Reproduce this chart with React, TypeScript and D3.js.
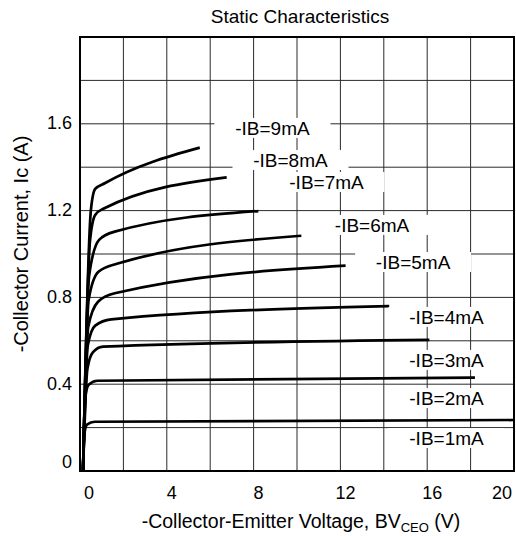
import React from "react";
import * as d3 from "d3";

type Pt = [number, number];

// -IB curves, [V, A]
const ib1: Pt[] = [[0.14, 0], [0.2, 0.17], [0.32, 0.214], [0.68, 0.227], [20, 0.235]];
const ib2: Pt[] = [[0.14, 0], [0.24, 0.34], [0.4, 0.398], [0.8, 0.416], [18.2, 0.43]];
const ib3: Pt[] = [[0.14, 0], [0.34, 0.47], [0.6, 0.548], [1.06, 0.573], [16.1, 0.604]];
const ib4: Pt[] = [[0.14, 0], [0.36, 0.58], [0.7, 0.67], [1.44, 0.699], [14.25, 0.76]];
const ib5: Pt[] = [[0.14, 0], [0.38, 0.665], [0.83, 0.78], [1.6, 0.819], [12.24, 0.946]];
const ib6: Pt[] = [[0.14, 0], [0.4, 0.79], [0.85, 0.918], [1.7, 0.955], [10.2, 1.084]];
const ib7: Pt[] = [[0.14, 0], [0.42, 0.9], [0.88, 1.065], [1.6, 1.103], [8.22, 1.198]];
const ib8: Pt[] = [[0.14, 0], [0.46, 1.06], [0.7, 1.18], [1.1, 1.21], [6.76, 1.353]];
const ib9: Pt[] = [[0.14, 0], [0.5, 1.2], [0.7, 1.3], [1.14, 1.326], [5.52, 1.49]];

const curves = [ib1, ib2, ib3, ib4, ib5, ib6, ib7, ib8, ib9];
const curveNames = ["-IB=1mA", "-IB=2mA", "-IB=3mA", "-IB=4mA", "-IB=5mA", "-IB=6mA", "-IB=7mA", "-IB=8mA", "-IB=9mA"];
// where each name sits, in data units
const nameAt: Pt[] = [
  [16.89, 0.152], [16.89, 0.336], [16.89, 0.512], [16.89, 0.71], [15.35, 0.963],
  [13.46, 1.134], [11.36, 1.332], [9.7, 1.433], [8.87, 1.581],
];

const xTicks = [0, 4, 8, 12, 16, 20];
const yTicks = [0, 0.4, 0.8, 1.2, 1.6];

const width = 516;
const height = 536;
const margin = { top: 37, right: 2, bottom: 65, left: 80 };
const font = "'Liberation Sans', Arial, sans-serif";

export default function App() {
  const innerWidth = width - margin.left - margin.right;
  const innerHeight = height - margin.top - margin.bottom;

  const x = d3.scaleLinear().domain([0, 20]).range([0, innerWidth]);
  const y = d3.scaleLinear().domain([0, 2]).range([innerHeight, 0]);

  const line = d3
    .line<Pt>()
    .x(d => x(d[0]))
    .y(d => y(d[1]))
    .curve(d3.curveMonotoneX);

  const labelW = 116;
  const labelH = 20;

  return (
    <svg
      width={width}
      height={height}
      style={{ position: "absolute", left: 0, top: 0, background: "#fff" }}
      fontFamily={font}
    >
      <text x={300} y={23} fontSize={19} textAnchor="middle" fill="#000">
        Static Characteristics
      </text>
      <g transform={`translate(${margin.left},${margin.top})`}>
        {x.ticks(10).map(t => (
          <line key={"gx" + t} x1={x(t)} x2={x(t)} y1={0} y2={innerHeight} stroke="#2a2a2a" strokeWidth={1} />
        ))}
        {y.ticks(10).map(t => (
          <line key={"gy" + t} x1={0} x2={innerWidth} y1={y(t)} y2={y(t)} stroke="#2a2a2a" strokeWidth={1} />
        ))}

        {curves.map((c, i) => (
          <path key={"c" + i} d={line(c) ?? undefined} fill="none" stroke="#000" strokeWidth={2.7} strokeLinejoin="round" />
        ))}

        {curveNames.map((name, i) => {
          const cx = x(nameAt[i][0]);
          const cy = y(nameAt[i][1]);
          return (
            <g key={name}>
              <rect x={cx - labelW / 2} y={cy - labelH / 2} width={labelW} height={labelH} fill="#fff" />
              <text x={cx} y={cy} dy="0.36em" fontSize={19} textAnchor="middle" fill="#000">
                {name}
              </text>
            </g>
          );
        })}

        <rect x={0} y={0} width={innerWidth} height={innerHeight} fill="none" stroke="#000" strokeWidth={2} />

        {yTicks.map(t => (
          <text
            key={"yt" + t}
            x={-8}
            y={Math.min(y(t) - 1, innerHeight - 9)}
            dy="0.36em"
            fontSize={18}
            textAnchor="end"
            fill="#000"
          >
            {d3.format("~g")(t)}
          </text>
        ))}

        {xTicks.map(t => (
          <text
            key={"xt" + t}
            x={Math.max(9, Math.min(x(t) + 5, innerWidth - 12))}
            y={innerHeight + 22}
            dy="0.36em"
            fontSize={18}
            textAnchor="middle"
            fill="#000"
          >
            {t}
          </text>
        ))}

        <text x={221} y={innerHeight + 57} fontSize={19.5} textAnchor="middle" fill="#000">
          -Collector-Emitter Voltage, BV
          <tspan fontSize={13} dy={4}>CEO</tspan>
          <tspan dy={-4}> (V)</tspan>
        </text>
      </g>
      <text
        transform={`translate(28,${margin.top + 207}) rotate(-90)`}
        fontSize={20}
        textAnchor="middle"
        fill="#000"
      >
        -Collector Current, Ic (A)
      </text>
    </svg>
  );
}
